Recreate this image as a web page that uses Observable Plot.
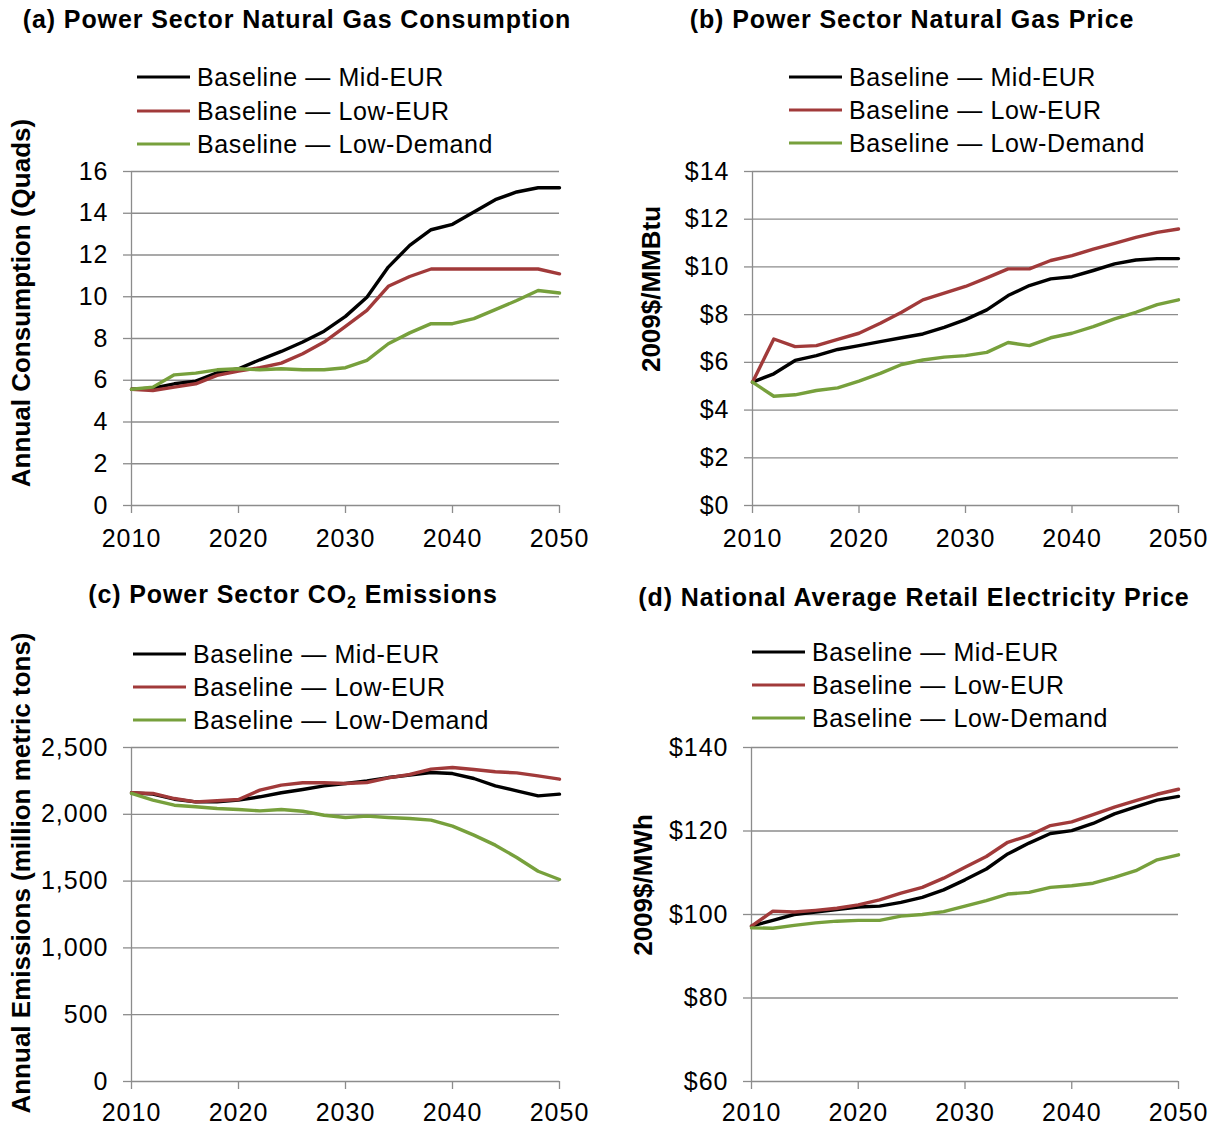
<!DOCTYPE html>
<html>
<head>
<meta charset="utf-8">
<script src="https://cdn.jsdelivr.net/npm/d3@7"></script>
<script src="https://cdn.jsdelivr.net/npm/@observablehq/plot@0.6"></script>
<style>
  body { margin: 0; background: #fff; }
  #fig { position: relative; width: 1217px; height: 1131px; overflow: hidden;
         font-family: "Liberation Sans", Arial, sans-serif; color: #000; background: #fff; }
  .title { position: absolute; font-weight: bold; font-size: 25px; letter-spacing: 0.9px;
           white-space: nowrap; transform: translate(-50%, -50%); line-height: 1; }
  .title sub { font-size: 16px; vertical-align: -5px; line-height: 0; }
  .lrow { position: absolute; display: flex; align-items: center; font-size: 25px;
          letter-spacing: 0.6px; white-space: nowrap; transform: translateY(-50%); line-height: 1; }
  .swatch { width: 53px; height: 3px; margin-right: 7px; }
  .ylab { position: absolute; font-weight: bold; font-size: 26px; white-space: nowrap; line-height: 1;
          transform: translate(-50%, -50%) rotate(-90deg); }
  .panel { position: absolute; }
</style>
</head>
<body>
<div id="fig"></div>
<script>
// Projection years (every second year)
const years = [2010, 2012, 2014, 2016, 2018, 2020, 2022, 2024, 2026, 2028, 2030,
               2032, 2034, 2036, 2038, 2040, 2042, 2044, 2046, 2048, 2050];
const xTicks = [2010, 2020, 2030, 2040, 2050];

const seriesNames = ["Baseline \u2014 Mid-EUR", "Baseline \u2014 Low-EUR", "Baseline \u2014 Low-Demand"];
const seriesColors = ["#000000", "#a13a3a", "#77a03c"];

// (a) Power sector natural gas consumption, quads
const gasUseMid       = [5.57, 5.62, 5.83, 5.96, 6.36, 6.55, 6.98, 7.38, 7.83, 8.35, 9.06, 9.98, 11.42, 12.46, 13.21, 13.47, 14.06, 14.65, 15.02, 15.22, 15.22];
const gasUseLowEur    = [5.57, 5.51, 5.67, 5.83, 6.23, 6.44, 6.60, 6.82, 7.27, 7.83, 8.58, 9.35, 10.50, 10.97, 11.33, 11.33, 11.33, 11.33, 11.33, 11.33, 11.10];
const gasUseLowDemand = [5.57, 5.67, 6.26, 6.34, 6.50, 6.55, 6.50, 6.55, 6.50, 6.50, 6.60, 6.95, 7.75, 8.27, 8.71, 8.71, 8.95, 9.38, 9.82, 10.30, 10.18];
const gasUseTicks = [0, 2, 4, 6, 8, 10, 12, 14, 16];

// (b) Power sector natural gas price, 2009$/MMBtu
const gasPriceMid       = [5.17, 5.52, 6.08, 6.28, 6.54, 6.70, 6.87, 7.03, 7.19, 7.47, 7.79, 8.20, 8.80, 9.22, 9.50, 9.59, 9.85, 10.13, 10.29, 10.35, 10.35];
const gasPriceLowEur    = [5.17, 6.98, 6.66, 6.70, 6.96, 7.22, 7.64, 8.10, 8.62, 8.90, 9.18, 9.54, 9.92, 9.92, 10.27, 10.47, 10.75, 10.99, 11.24, 11.45, 11.59];
const gasPriceLowDemand = [5.17, 4.58, 4.64, 4.82, 4.93, 5.21, 5.54, 5.91, 6.10, 6.22, 6.28, 6.42, 6.83, 6.70, 7.03, 7.22, 7.50, 7.82, 8.10, 8.42, 8.62];
const gasPriceTicks = [0, 2, 4, 6, 8, 10, 12, 14];

// (c) Power sector CO2 emissions, million metric tons
const co2Mid       = [2161, 2151, 2113, 2093, 2093, 2106, 2131, 2161, 2186, 2213, 2231, 2250, 2275, 2293, 2313, 2305, 2268, 2213, 2176, 2138, 2151];
const co2LowEur    = [2161, 2156, 2118, 2093, 2101, 2111, 2181, 2218, 2236, 2236, 2231, 2238, 2273, 2298, 2338, 2350, 2335, 2318, 2310, 2288, 2263];
const co2LowDemand = [2156, 2106, 2068, 2056, 2043, 2036, 2026, 2036, 2023, 1993, 1976, 1986, 1976, 1969, 1956, 1911, 1844, 1769, 1677, 1574, 1512];
const co2Ticks = [0, 500, 1000, 1500, 2000, 2500];

// (d) National average retail electricity price, 2009$/MWh
const elecMid       = [97.2, 98.6, 100.0, 100.6, 101.2, 101.8, 102.0, 102.9, 104.1, 105.9, 108.3, 110.9, 114.5, 117.1, 119.4, 120.1, 121.8, 124.1, 125.8, 127.4, 128.3];
const elecLowEur    = [97.2, 100.8, 100.6, 101.0, 101.5, 102.3, 103.5, 105.1, 106.5, 108.7, 111.3, 113.9, 117.3, 118.9, 121.3, 122.2, 123.9, 125.7, 127.3, 128.8, 130.0];
const elecLowDemand = [96.8, 96.7, 97.4, 98.0, 98.4, 98.6, 98.6, 99.6, 100.0, 100.7, 102.0, 103.3, 104.9, 105.3, 106.5, 106.9, 107.5, 108.9, 110.5, 113.1, 114.3];
const elecTicks = [60, 80, 100, 120, 140];

const fig = document.getElementById("fig");
const grid = "#8c8c8c";
const fontFamily = '"Liberation Sans", Arial, sans-serif';

function addPanel(p) {
  const [fx0, fx1, fy0, fy1] = p.frame;
  const chart = Plot.plot({
    width: p.width,
    height: p.height,
    marginLeft: fx0 - p.left,
    marginRight: p.left + p.width - fx1,
    marginTop: fy0 - p.top,
    marginBottom: p.top + p.height - fy1,
    style: { fontFamily, fontSize: "25px", color: "#000", background: "transparent", overflow: "visible" },
    x: { domain: [2010, 2050] },
    y: { domain: [p.yTicks[0], p.yTicks[p.yTicks.length - 1]] },
    marks: [
      Plot.ruleY(p.yTicks, { stroke: grid, strokeWidth: 1.3 }),
      Plot.ruleX([2010], { stroke: grid, strokeWidth: 1.3 }),
      Plot.axisY({ ticks: p.yTicks, tickFormat: p.yFormat, tickSize: 8, tickPadding: 15,
                   stroke: grid, strokeWidth: 1.3, fill: "#000", label: null }),
      Plot.axisX({ ticks: xTicks, tickFormat: d => String(d), tickSize: 8, tickPadding: p.xPad,
                   stroke: grid, strokeWidth: 1.3, fill: "#000", label: null }),
      ...p.series.map((values, k) =>
        Plot.lineY(values, { x: years, stroke: seriesColors[k], strokeWidth: 3.4 }))
    ]
  });
  chart.style.letterSpacing = "1px";
  const wrap = document.createElement("div");
  wrap.className = "panel";
  wrap.style.left = p.left + "px";
  wrap.style.top = p.top + "px";
  wrap.appendChild(chart);
  fig.appendChild(wrap);

  // title
  const t = document.createElement("div");
  t.className = "title";
  t.style.left = p.titleAt[0] + "px";
  t.style.top = p.titleAt[1] + "px";
  t.innerHTML = p.title;
  fig.appendChild(t);

  // legend
  seriesNames.forEach((name, k) => {
    const row = document.createElement("div");
    row.className = "lrow";
    row.style.left = p.legendAt[0] + "px";
    row.style.top = (p.legendAt[1] + k * p.legendStep) + "px";
    const sw = document.createElement("span");
    sw.className = "swatch";
    sw.style.background = seriesColors[k];
    const tx = document.createElement("span");
    tx.textContent = name;
    row.appendChild(sw);
    row.appendChild(tx);
    fig.appendChild(row);
  });

  // y-axis label
  const yl = document.createElement("div");
  yl.className = "ylab";
  yl.style.left = p.yLabelAt[0] + "px";
  yl.style.top = p.yLabelAt[1] + "px";
  yl.textContent = p.yLabel;
  fig.appendChild(yl);
}

const comma = d3.format(",");

addPanel({
  left: 0, top: 160, width: 600, height: 400, frame: [131, 559, 171, 505], xPad: 16,
  yTicks: gasUseTicks, yFormat: d => String(d),
  series: [gasUseMid, gasUseLowEur, gasUseLowDemand],
  title: "(a) Power Sector Natural Gas Consumption", titleAt: [297, 19],
  legendAt: [137, 77], legendStep: 33.5,
  yLabel: "Annual Consumption (Quads)", yLabelAt: [21, 303]
});

addPanel({
  left: 620, top: 160, width: 597, height: 400, frame: [752, 1178, 171, 505], xPad: 16,
  yTicks: gasPriceTicks, yFormat: d => "$" + d,
  series: [gasPriceMid, gasPriceLowEur, gasPriceLowDemand],
  title: "(b) Power Sector Natural Gas Price", titleAt: [912, 19],
  legendAt: [789, 77], legendStep: 33,
  yLabel: "2009$/MMBtu", yLabelAt: [651, 289]
});

addPanel({
  left: 0, top: 736, width: 600, height: 395, frame: [131, 559, 747, 1081], xPad: 14,
  yTicks: co2Ticks, yFormat: d => comma(d),
  series: [co2Mid, co2LowEur, co2LowDemand],
  title: "(c) Power Sector CO<sub>2</sub> Emissions", titleAt: [293, 594],
  legendAt: [133, 654], legendStep: 33,
  yLabel: "Annual Emissions (million metric tons)", yLabelAt: [21, 873]
});

addPanel({
  left: 620, top: 736, width: 597, height: 395, frame: [751, 1178, 747, 1081], xPad: 14,
  yTicks: elecTicks, yFormat: d => "$" + d,
  series: [elecMid, elecLowEur, elecLowDemand],
  title: "(d) National Average Retail Electricity Price", titleAt: [914, 597],
  legendAt: [752, 652], legendStep: 33,
  yLabel: "2009$/MWh", yLabelAt: [643, 885]
});
</script>
</body>
</html>
